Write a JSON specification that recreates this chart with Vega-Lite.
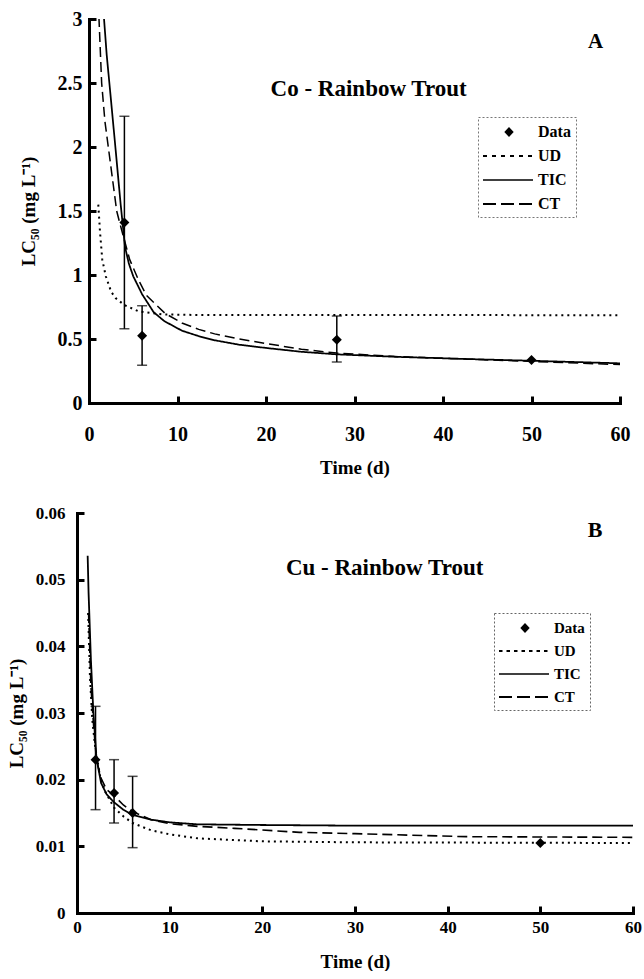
{
  "$schema": "https://vega.github.io/schema/vega-lite/v6.json",
  "background": "white",
  "padding": {"left": 7, "top": 9, "right": 0, "bottom": 0},
  "spacing": 27,
  "config": {
    "view": {"stroke": null},
    "font": "Liberation Serif",
    "axis": {
      "domainColor": "black", "domainWidth": 3, "domainCap": "square",
      "tickColor": "black", "tickWidth": 3, "tickSize": -7,
      "grid": false, "labelColor": "black", "labelFontWeight": "bold",
      "labelFont": "Liberation Serif", "titleFont": "Liberation Serif",
      "titleFontWeight": "bold", "titleColor": "black",
      "labelFlush": false, "labelOverlap": false, "format": "~g"
    },
    "legend": {"strokeDash": [2, 2], "strokeColor": "#777777", "strokeWidth": 1}
  },
  "resolve": {
    "scale": {"shape": "independent", "strokeDash": "independent", "strokeWidth": "independent"},
    "legend": {"shape": "independent", "strokeDash": "independent", "strokeWidth": "independent"}
  },
  "datasets": {
    "coPts": [
      {"t": 4, "lc": 1.41, "lo": 0.58, "hi": 2.24, "series": "Data"},
      {"t": 6, "lc": 0.525, "lo": 0.295, "hi": 0.76, "series": "Data"},
      {"t": 28, "lc": 0.495, "lo": 0.32, "hi": 0.68, "series": "Data"},
      {"t": 50, "lc": 0.335, "lo": null, "hi": null, "series": "Data"}
    ],
    "coCurves": [
      {"series": "UD", "t": 1.05, "v": 1.55}, {"series": "UD", "t": 1.24, "v": 1.34},
      {"series": "UD", "t": 1.5, "v": 1.12}, {"series": "UD", "t": 1.9, "v": 0.99},
      {"series": "UD", "t": 2.5, "v": 0.87}, {"series": "UD", "t": 3.0, "v": 0.82},
      {"series": "UD", "t": 4.0, "v": 0.765}, {"series": "UD", "t": 5.6, "v": 0.716},
      {"series": "UD", "t": 8.3, "v": 0.692}, {"series": "UD", "t": 12, "v": 0.688},
      {"series": "UD", "t": 60, "v": 0.686},
      {"series": "TIC", "t": 1.55, "v": 3.25}, {"series": "TIC", "t": 1.7, "v": 3.0},
      {"series": "TIC", "t": 2.0, "v": 2.72}, {"series": "TIC", "t": 2.37, "v": 2.45},
      {"series": "TIC", "t": 2.94, "v": 2.03}, {"series": "TIC", "t": 3.58, "v": 1.55},
      {"series": "TIC", "t": 4.07, "v": 1.22}, {"series": "TIC", "t": 4.5, "v": 1.09},
      {"series": "TIC", "t": 5.0, "v": 0.99}, {"series": "TIC", "t": 6.0, "v": 0.85},
      {"series": "TIC", "t": 7.3, "v": 0.71}, {"series": "TIC", "t": 8.5, "v": 0.64},
      {"series": "TIC", "t": 10.5, "v": 0.565}, {"series": "TIC", "t": 12.5, "v": 0.52},
      {"series": "TIC", "t": 14.2, "v": 0.49}, {"series": "TIC", "t": 17, "v": 0.455},
      {"series": "TIC", "t": 20, "v": 0.43}, {"series": "TIC", "t": 24, "v": 0.4},
      {"series": "TIC", "t": 28, "v": 0.38}, {"series": "TIC", "t": 35, "v": 0.36},
      {"series": "TIC", "t": 43, "v": 0.343}, {"series": "TIC", "t": 50, "v": 0.33},
      {"series": "TIC", "t": 60, "v": 0.31},
      {"series": "CT", "t": 1.0, "v": 3.25}, {"series": "CT", "t": 1.13, "v": 3.0},
      {"series": "CT", "t": 1.43, "v": 2.5}, {"series": "CT", "t": 1.8, "v": 2.2},
      {"series": "CT", "t": 2.18, "v": 2.0}, {"series": "CT", "t": 3.13, "v": 1.5},
      {"series": "CT", "t": 3.5, "v": 1.4}, {"series": "CT", "t": 4.6, "v": 1.12},
      {"series": "CT", "t": 5.6, "v": 0.96}, {"series": "CT", "t": 6.5, "v": 0.84},
      {"series": "CT", "t": 8.6, "v": 0.7}, {"series": "CT", "t": 10.5, "v": 0.625},
      {"series": "CT", "t": 12.4, "v": 0.575}, {"series": "CT", "t": 14.2, "v": 0.54},
      {"series": "CT", "t": 17, "v": 0.5}, {"series": "CT", "t": 20, "v": 0.465},
      {"series": "CT", "t": 24, "v": 0.42}, {"series": "CT", "t": 28, "v": 0.39},
      {"series": "CT", "t": 35, "v": 0.362}, {"series": "CT", "t": 43, "v": 0.342},
      {"series": "CT", "t": 50, "v": 0.325}, {"series": "CT", "t": 60, "v": 0.3}
    ],
    "cuPts": [
      {"t": 2, "lc": 0.023, "lo": 0.0155, "hi": 0.031, "series": "Data"},
      {"t": 4, "lc": 0.018, "lo": 0.0135, "hi": 0.023, "series": "Data"},
      {"t": 6, "lc": 0.015, "lo": 0.0098, "hi": 0.0205, "series": "Data"},
      {"t": 50, "lc": 0.0105, "lo": null, "hi": null, "series": "Data"}
    ],
    "cuCurves": [
      {"series": "UD", "t": 1.2, "v": 0.045}, {"series": "UD", "t": 1.4, "v": 0.0354},
      {"series": "UD", "t": 1.65, "v": 0.029}, {"series": "UD", "t": 1.95, "v": 0.025},
      {"series": "UD", "t": 2.5, "v": 0.0205}, {"series": "UD", "t": 3, "v": 0.0183},
      {"series": "UD", "t": 4, "v": 0.0158}, {"series": "UD", "t": 5, "v": 0.0145},
      {"series": "UD", "t": 6, "v": 0.0135}, {"series": "UD", "t": 8, "v": 0.0124},
      {"series": "UD", "t": 10, "v": 0.0118}, {"series": "UD", "t": 13, "v": 0.0112},
      {"series": "UD", "t": 20, "v": 0.01075}, {"series": "UD", "t": 30, "v": 0.0106},
      {"series": "UD", "t": 60, "v": 0.0105},
      {"series": "TIC", "t": 1.15, "v": 0.0536}, {"series": "TIC", "t": 1.25, "v": 0.048},
      {"series": "TIC", "t": 1.5, "v": 0.038}, {"series": "TIC", "t": 1.75, "v": 0.0305},
      {"series": "TIC", "t": 2.1, "v": 0.0232}, {"series": "TIC", "t": 2.6, "v": 0.0195},
      {"series": "TIC", "t": 3.2, "v": 0.0178}, {"series": "TIC", "t": 4, "v": 0.0166},
      {"series": "TIC", "t": 5, "v": 0.0155}, {"series": "TIC", "t": 6, "v": 0.0147},
      {"series": "TIC", "t": 8, "v": 0.014}, {"series": "TIC", "t": 10, "v": 0.0136},
      {"series": "TIC", "t": 13, "v": 0.0133}, {"series": "TIC", "t": 20, "v": 0.0132},
      {"series": "TIC", "t": 30, "v": 0.0131}, {"series": "TIC", "t": 60, "v": 0.0131},
      {"series": "CT", "t": 1.25, "v": 0.045}, {"series": "CT", "t": 1.5, "v": 0.034},
      {"series": "CT", "t": 1.8, "v": 0.028}, {"series": "CT", "t": 2.1, "v": 0.023},
      {"series": "CT", "t": 2.6, "v": 0.0202}, {"series": "CT", "t": 3.2, "v": 0.0185},
      {"series": "CT", "t": 4, "v": 0.0176}, {"series": "CT", "t": 5, "v": 0.0162},
      {"series": "CT", "t": 6, "v": 0.0152}, {"series": "CT", "t": 8, "v": 0.014},
      {"series": "CT", "t": 10, "v": 0.0134}, {"series": "CT", "t": 13, "v": 0.013},
      {"series": "CT", "t": 17, "v": 0.0127}, {"series": "CT", "t": 24, "v": 0.0121},
      {"series": "CT", "t": 30, "v": 0.0119}, {"series": "CT", "t": 42, "v": 0.01145},
      {"series": "CT", "t": 60, "v": 0.01135}
    ]
  },
  "vconcat": [
    {
      "width": 543,
      "height": 384,
      "layer": [
        {
          "data": {"name": "coPts"},
          "transform": [{"filter": "false"}],
          "mark": {"type": "point", "filled": true, "color": "black", "opacity": 1},
          "encoding": {
            "x": {"field": "t", "type": "quantitative", "scale": {"domain": [0, 60], "nice": false, "range": [12, 543]},
              "axis": {"values": [0, 10, 20, 30, 40, 50, 60], "title": "Time (d)", "labelFontSize": 20, "labelPadding": 28, "titleFontSize": 19, "titlePadding": 14}},
            "y": {"field": "lc", "type": "quantitative", "scale": {"domain": [0, 3], "nice": false},
              "axis": {"values": [0, 0.5, 1, 1.5, 2, 2.5, 3], "offset": -12, "title": "LC₅₀ (mg L⁻¹)", "labelFontSize": 20, "labelPadding": 14, "titleFontSize": 19, "titlePadding": 19}},
            "shape": {"field": "series", "type": "nominal",
              "scale": {"domain": ["Data", "UD", "TIC", "CT"], "range": [
                "M1.6,-0.5L2.07,0L1.6,0.5L1.13,0Z",
                "M-1,-0.09L-0.6,-0.09L-0.6,0.09L-1,0.09Z M-0.1,-0.09L0.3,-0.09L0.3,0.09L-0.1,0.09Z M0.8,-0.09L1.2,-0.09L1.2,0.09L0.8,0.09Z M1.7,-0.09L2.1,-0.09L2.1,0.09L1.7,0.09Z M2.6,-0.09L3,-0.09L3,0.09L2.6,0.09Z M3.5,-0.09L3.9,-0.09L3.9,0.09L3.5,0.09Z",
                "M-1,-0.08L4,-0.08L4,0.08L-1,0.08Z",
                "M-1,-0.1L0.3,-0.1L0.3,0.1L-1,0.1Z M0.8,-0.1L2.1,-0.1L2.1,0.1L0.8,0.1Z M2.6,-0.1L3.9,-0.1L3.9,0.1L2.6,0.1Z"
              ]},
              "legend": {"title": null, "orient": "none", "legendX": 401, "legendY": 98, "padding": 5, "symbolSize": 400, "symbolStrokeWidth": 0, "symbolFillColor": "black", "symbolOpacity": 1, "labelFontSize": 16, "labelFontWeight": "bold", "labelFont": "Liberation Serif", "labelColor": "black", "labelOffset": 35, "rowPadding": 6}
            }
          }
        },
        {
          "data": {"name": "coCurves"},
          "mark": {"type": "line", "color": "black", "clip": true},
          "encoding": {
            "x": {"field": "t", "type": "quantitative"},
            "y": {"field": "v", "type": "quantitative"},
            "detail": {"field": "series"},
            "strokeDash": {"field": "series", "type": "nominal", "legend": null,
              "scale": {"domain": ["UD", "TIC", "CT"], "range": [[2, 4], [1, 0], [10, 5]]}},
            "strokeWidth": {"field": "series", "type": "nominal", "legend": null,
              "scale": {"domain": ["UD", "TIC", "CT"], "range": [2, 1.5, 1.9]}}
          }
        },
        {
          "data": {"name": "coPts"},
          "transform": [{"filter": "datum.lo != null"}],
          "mark": {"type": "rule", "color": "black", "strokeWidth": 1.5},
          "encoding": {"x": {"field": "t", "type": "quantitative"}, "y": {"field": "lo", "type": "quantitative"}, "y2": {"field": "hi"}}
        },
        {
          "data": {"name": "coPts"},
          "transform": [{"filter": "datum.lo != null"}],
          "mark": {"type": "tick", "orient": "horizontal", "color": "black", "thickness": 1.5, "size": 10},
          "encoding": {"x": {"field": "t", "type": "quantitative"}, "y": {"field": "lo", "type": "quantitative"}}
        },
        {
          "data": {"name": "coPts"},
          "transform": [{"filter": "datum.lo != null"}],
          "mark": {"type": "tick", "orient": "horizontal", "color": "black", "thickness": 1.5, "size": 10},
          "encoding": {"x": {"field": "t", "type": "quantitative"}, "y": {"field": "hi", "type": "quantitative"}}
        },
        {
          "data": {"name": "coPts"},
          "mark": {"type": "point", "shape": "diamond", "filled": true, "color": "black", "opacity": 1, "size": 100},
          "encoding": {"x": {"field": "t", "type": "quantitative"}, "y": {"field": "lc", "type": "quantitative"}}
        },
        {
          "data": {"values": [{}]},
          "mark": {"type": "text", "text": "A", "font": "Liberation Serif", "fontWeight": "bold", "fontSize": 21, "color": "black"},
          "encoding": {"x": {"datum": 57.25, "type": "quantitative"}, "y": {"datum": 2.82, "type": "quantitative"}}
        },
        {
          "data": {"values": [{}]},
          "mark": {"type": "text", "text": "Co - Rainbow Trout", "font": "Liberation Serif", "fontWeight": "bold", "fontSize": 23, "color": "black"},
          "encoding": {"x": {"datum": 31.6, "type": "quantitative"}, "y": {"datum": 2.45, "type": "quantitative"}}
        }
      ]
    },
    {
      "width": 556,
      "height": 400,
      "layer": [
        {
          "data": {"name": "cuPts"},
          "transform": [{"filter": "false"}],
          "mark": {"type": "point", "filled": true, "color": "black", "opacity": 1},
          "encoding": {
            "x": {"field": "t", "type": "quantitative", "scale": {"domain": [0, 60], "nice": false},
              "axis": {"values": [0, 10, 20, 30, 40, 50, 60], "title": "Time (d)", "labelFontSize": 17, "labelPadding": 13, "titleFontSize": 19, "titlePadding": 17}},
            "y": {"field": "lc", "type": "quantitative", "scale": {"domain": [0, 0.06], "nice": false},
              "axis": {"values": [0, 0.01, 0.02, 0.03, 0.04, 0.05, 0.06], "title": "LC₅₀ (mg L⁻¹)", "labelFontSize": 17, "labelPadding": 19, "titleFontSize": 19, "titlePadding": 9}},
            "shape": {"field": "series", "type": "nominal",
              "scale": {"domain": ["Data", "UD", "TIC", "CT"], "range": [
                "M1.6,-0.5L2.07,0L1.6,0.5L1.13,0Z",
                "M-1,-0.09L-0.65,-0.09L-0.65,0.09L-1,0.09Z M-0.25,-0.09L0.1,-0.09L0.1,0.09L-0.25,0.09Z M0.5,-0.09L0.85,-0.09L0.85,0.09L0.5,0.09Z M1.25,-0.09L1.6,-0.09L1.6,0.09L1.25,0.09Z M2,-0.09L2.35,-0.09L2.35,0.09L2,0.09Z M2.75,-0.09L3.1,-0.09L3.1,0.09L2.75,0.09Z M3.5,-0.09L3.85,-0.09L3.85,0.09L3.5,0.09Z",
                "M-1,-0.08L4,-0.08L4,0.08L-1,0.08Z",
                "M-1,-0.1L0.3,-0.1L0.3,0.1L-1,0.1Z M0.8,-0.1L2.1,-0.1L2.1,0.1L0.8,0.1Z M2.6,-0.1L3.9,-0.1L3.9,0.1L2.6,0.1Z"
              ]},
              "legend": {"title": null, "orient": "none", "legendX": 417, "legendY": 100, "padding": 5, "symbolSize": 400, "symbolStrokeWidth": 0, "symbolFillColor": "black", "symbolOpacity": 1, "labelFontSize": 15, "labelFontWeight": "bold", "labelFont": "Liberation Serif", "labelColor": "black", "labelOffset": 35, "rowPadding": 5, "strokeColor": "#666666"}
            }
          }
        },
        {
          "data": {"name": "cuCurves"},
          "mark": {"type": "line", "color": "black", "clip": true},
          "encoding": {
            "x": {"field": "t", "type": "quantitative"},
            "y": {"field": "v", "type": "quantitative"},
            "detail": {"field": "series"},
            "strokeDash": {"field": "series", "type": "nominal", "legend": null,
              "scale": {"domain": ["UD", "TIC", "CT"], "range": [[2, 4], [1, 0], [10, 5]]}},
            "strokeWidth": {"field": "series", "type": "nominal", "legend": null,
              "scale": {"domain": ["UD", "TIC", "CT"], "range": [2, 1.6, 1.9]}}
          }
        },
        {
          "data": {"name": "cuPts"},
          "transform": [{"filter": "datum.lo != null"}],
          "mark": {"type": "rule", "color": "black", "strokeWidth": 1.5},
          "encoding": {"x": {"field": "t", "type": "quantitative"}, "y": {"field": "lo", "type": "quantitative"}, "y2": {"field": "hi"}}
        },
        {
          "data": {"name": "cuPts"},
          "transform": [{"filter": "datum.lo != null"}],
          "mark": {"type": "tick", "orient": "horizontal", "color": "black", "thickness": 1.5, "size": 10},
          "encoding": {"x": {"field": "t", "type": "quantitative"}, "y": {"field": "lo", "type": "quantitative"}}
        },
        {
          "data": {"name": "cuPts"},
          "transform": [{"filter": "datum.lo != null"}],
          "mark": {"type": "tick", "orient": "horizontal", "color": "black", "thickness": 1.5, "size": 10},
          "encoding": {"x": {"field": "t", "type": "quantitative"}, "y": {"field": "hi", "type": "quantitative"}}
        },
        {
          "data": {"name": "cuPts"},
          "mark": {"type": "point", "shape": "diamond", "filled": true, "color": "black", "opacity": 1, "size": 100},
          "encoding": {"x": {"field": "t", "type": "quantitative"}, "y": {"field": "lc", "type": "quantitative"}}
        },
        {
          "data": {"values": [{}]},
          "mark": {"type": "text", "text": "B", "font": "Liberation Serif", "fontWeight": "bold", "fontSize": 22, "color": "black"},
          "encoding": {"x": {"datum": 55.9, "type": "quantitative"}, "y": {"datum": 0.0574, "type": "quantitative"}}
        },
        {
          "data": {"values": [{}]},
          "mark": {"type": "text", "text": "Cu - Rainbow Trout", "font": "Liberation Serif", "fontWeight": "bold", "fontSize": 23, "color": "black"},
          "encoding": {"x": {"datum": 33.2, "type": "quantitative"}, "y": {"datum": 0.05175, "type": "quantitative"}}
        }
      ]
    }
  ]
}
